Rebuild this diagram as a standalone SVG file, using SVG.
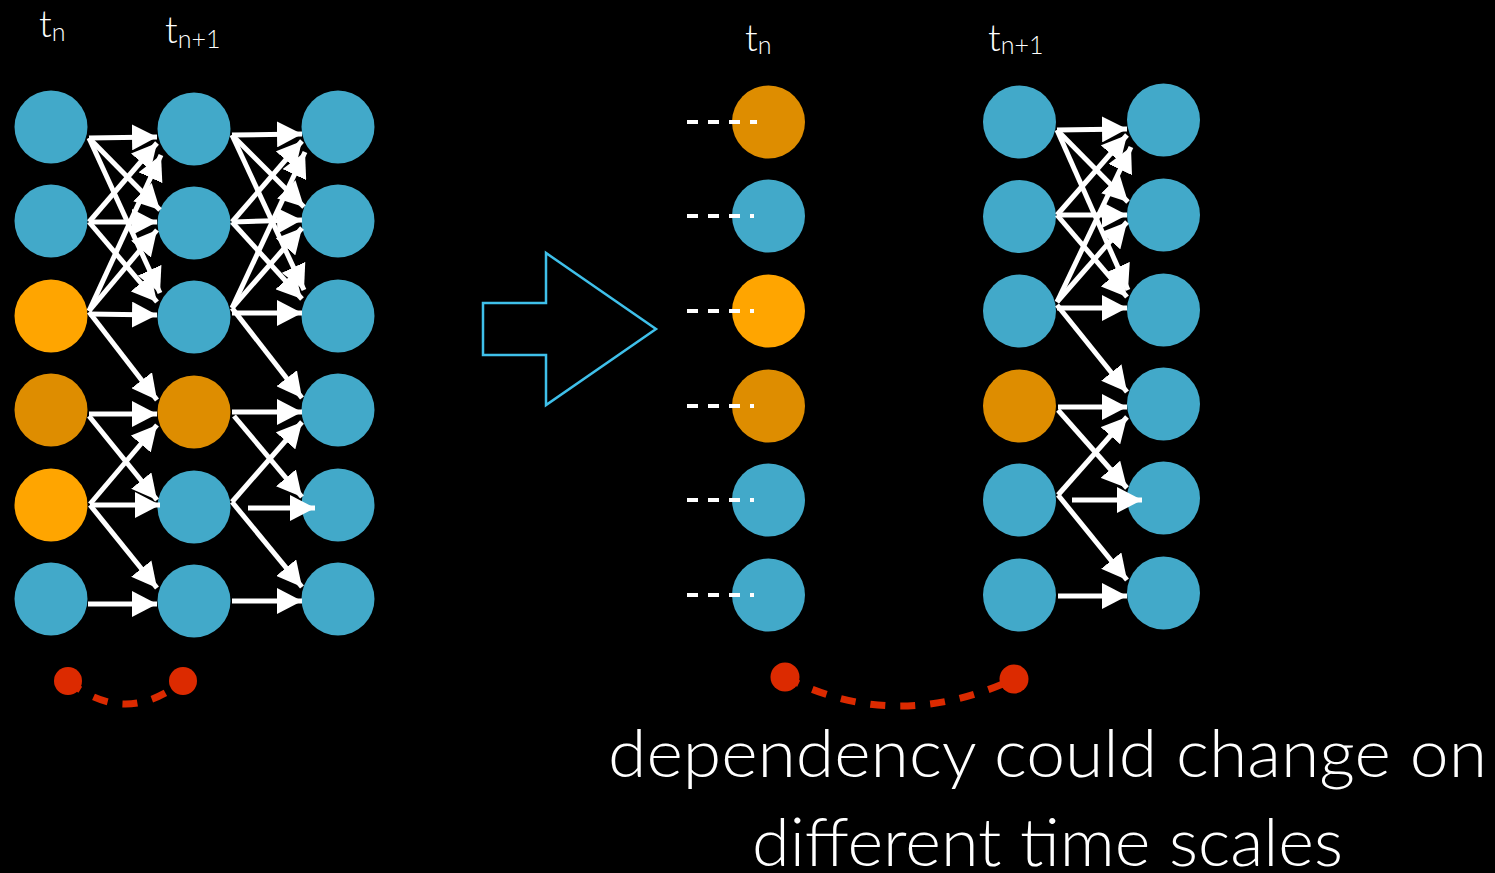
<svg xmlns="http://www.w3.org/2000/svg" width="1495" height="873" viewBox="0 0 1495 873">
<defs>
<style>
.b{fill:#42A9C9}
.o{fill:#FFA500}
.d{fill:#DE8D00}
.ar{stroke:#fff;stroke-width:5;fill:none;marker-end:url(#ah)}
.dash{stroke:#fff;stroke-width:4;stroke-dasharray:11 10;fill:none}
.red{stroke:#DC2A00;stroke-width:7;stroke-dasharray:15 15;fill:none}
.rdot{fill:#DC2A00}
.lbl{font-family:Lato,"Open Sans",sans-serif;font-weight:300;fill:#fff;font-size:37px}
.big{font-family:Lato,"Open Sans",sans-serif;font-weight:300;fill:#fff;font-size:67px}
</style>
<marker id="ah" markerUnits="userSpaceOnUse" markerWidth="26" markerHeight="26" refX="25" refY="13" orient="auto">
<path d="M0,0 L25,13 L0,26 z" fill="#fff"/>
</marker>
</defs>
<rect width="1495" height="873" fill="#000"/>

<g id="labels">
<text class="lbl" x="39" y="37">t<tspan font-size="25" dy="4">n</tspan></text>
<text class="lbl" x="165" y="43">t<tspan font-size="25" dy="5">n+1</tspan></text>
<text class="lbl" x="745" y="51">t<tspan font-size="25" dy="3">n</tspan></text>
<text class="lbl" x="988" y="51">t<tspan font-size="25" dy="3">n+1</tspan></text>
</g>

<g id="left-col1">
<circle class="b" cx="51" cy="127" r="36.5"/>
<circle class="b" cx="51" cy="221" r="36.5"/>
<circle class="o" cx="51" cy="316" r="36.5"/>
<circle class="d" cx="51" cy="410" r="36.5"/>
<circle class="o" cx="51" cy="505" r="36.5"/>
<circle class="b" cx="51" cy="599" r="36.5"/>
</g>
<g id="left-col2">
<circle class="b" cx="194" cy="129" r="36.5"/>
<circle class="b" cx="194" cy="223" r="36.5"/>
<circle class="b" cx="194" cy="317" r="36.5"/>
<circle class="d" cx="194" cy="412" r="36.5"/>
<circle class="b" cx="194" cy="507" r="36.5"/>
<circle class="b" cx="194" cy="601" r="36.5"/>
</g>
<g id="left-col3">
<circle class="b" cx="338" cy="127" r="36.5"/>
<circle class="b" cx="338" cy="221" r="36.5"/>
<circle class="b" cx="338" cy="316" r="36.5"/>
<circle class="b" cx="338" cy="410" r="36.5"/>
<circle class="b" cx="338" cy="505" r="36.5"/>
<circle class="b" cx="338" cy="599" r="36.5"/>
</g>

<g id="mid-col">
<circle class="d" cx="768.5" cy="122" r="36.5"/>
<circle class="b" cx="768.5" cy="216" r="36.5"/>
<circle class="o" cx="768.5" cy="311" r="36.5"/>
<circle class="d" cx="768.5" cy="406" r="36.5"/>
<circle class="b" cx="768.5" cy="500" r="36.5"/>
<circle class="b" cx="768.5" cy="595" r="36.5"/>
</g>
<g id="right-colA">
<circle class="b" cx="1019.5" cy="122" r="36.5"/>
<circle class="b" cx="1019.5" cy="216.5" r="36.5"/>
<circle class="b" cx="1019.5" cy="311" r="36.5"/>
<circle class="d" cx="1019.5" cy="406" r="36.5"/>
<circle class="b" cx="1019.5" cy="500" r="36.5"/>
<circle class="b" cx="1019.5" cy="595" r="36.5"/>
</g>
<g id="right-colB">
<circle class="b" cx="1163.5" cy="120" r="36.5"/>
<circle class="b" cx="1163.5" cy="215" r="36.5"/>
<circle class="b" cx="1163.5" cy="310" r="36.5"/>
<circle class="b" cx="1163.5" cy="404" r="36.5"/>
<circle class="b" cx="1163.5" cy="498" r="36.5"/>
<circle class="b" cx="1163.5" cy="593" r="36.5"/>
</g>

<g id="connectors">
<path class="ar" d="M89,138 L157,137"/>
<path class="ar" d="M89,222 L157,143"/>
<path class="ar" d="M89,311 L161,155"/>
<path class="ar" d="M89,138 L160,210"/>
<path class="ar" d="M89,222 L157,222"/>
<path class="ar" d="M89,311 L157,230"/>
<path class="ar" d="M89,138 L160,293"/>
<path class="ar" d="M89,222 L157,302"/>
<path class="ar" d="M89,314 L157,315"/>
<path class="ar" d="M89,312 L157,400"/>
<path class="ar" d="M89,414 L157,414"/>
<path class="ar" d="M89,416 L157,500"/>
<path class="ar" d="M90,504 L157,425"/>
<path class="ar" d="M90,505 L160,505"/>
<path class="ar" d="M90,505 L157,588"/>
<path class="ar" d="M88,604 L157,604"/>

<path class="ar" d="M232,135 L302,134"/>
<path class="ar" d="M232,222 L302,141"/>
<path class="ar" d="M232,308 L305,152"/>
<path class="ar" d="M232,135 L304,207"/>
<path class="ar" d="M232,222 L302,220"/>
<path class="ar" d="M232,308 L302,228"/>
<path class="ar" d="M232,135 L304,290"/>
<path class="ar" d="M232,222 L302,299"/>
<path class="ar" d="M232,313 L302,313"/>
<path class="ar" d="M232,308 L302,398"/>
<path class="ar" d="M232,412 L302,412"/>
<path class="ar" d="M234,416 L302,497"/>
<path class="ar" d="M232,502 L302,422"/>
<path class="ar" d="M248,508 L315,508"/>
<path class="ar" d="M232,502 L302,587"/>
<path class="ar" d="M232,601 L302,601"/>

<path class="ar" d="M1057,130 L1127,129"/>
<path class="ar" d="M1057,215 L1127,135"/>
<path class="ar" d="M1057,302 L1131,147"/>
<path class="ar" d="M1057,130 L1128,202"/>
<path class="ar" d="M1057,215 L1127,215"/>
<path class="ar" d="M1057,302 L1127,222"/>
<path class="ar" d="M1057,130 L1128,290"/>
<path class="ar" d="M1057,215 L1127,297"/>
<path class="ar" d="M1057,308 L1127,308"/>
<path class="ar" d="M1057,305 L1127,392"/>
<path class="ar" d="M1058,407 L1127,407"/>
<path class="ar" d="M1058,410 L1127,488"/>
<path class="ar" d="M1058,495 L1127,417"/>
<path class="ar" d="M1072,500 L1142,500"/>
<path class="ar" d="M1058,495 L1127,580"/>
<path class="ar" d="M1058,596 L1127,596"/>

<path class="dash" d="M687,122 H757"/>
<path class="dash" d="M687,216 H754"/>
<path class="dash" d="M687,311 H754"/>
<path class="dash" d="M687,406 H754"/>
<path class="dash" d="M687,500 H754"/>
<path class="dash" d="M687,595 H754"/>
</g>

<g id="big-arrow">
<path d="M483,303 L546,303 L546,253 L656,329 L546,405 L546,355 L483,355 Z" fill="none" stroke="#3FC0EA" stroke-width="2.5"/>
</g>

<g id="red-left">
<path class="red" d="M68,681 Q125.5,727 183,681"/>
<circle class="rdot" cx="68" cy="681" r="14"/>
<circle class="rdot" cx="183" cy="681" r="14"/>
</g>
<g id="red-right">
<path class="red" d="M785,677 Q895,734 1014,679"/>
<circle class="rdot" cx="785" cy="677" r="14.5"/>
<circle class="rdot" cx="1014" cy="679" r="14.5"/>
</g>

<g id="caption">
<text class="big" x="1047.5" y="777" text-anchor="middle" textLength="879" lengthAdjust="spacingAndGlyphs">dependency could change on</text>
<text class="big" x="1047.5" y="866" text-anchor="middle" textLength="591" lengthAdjust="spacingAndGlyphs">different time scales</text>
</g>
</svg>
